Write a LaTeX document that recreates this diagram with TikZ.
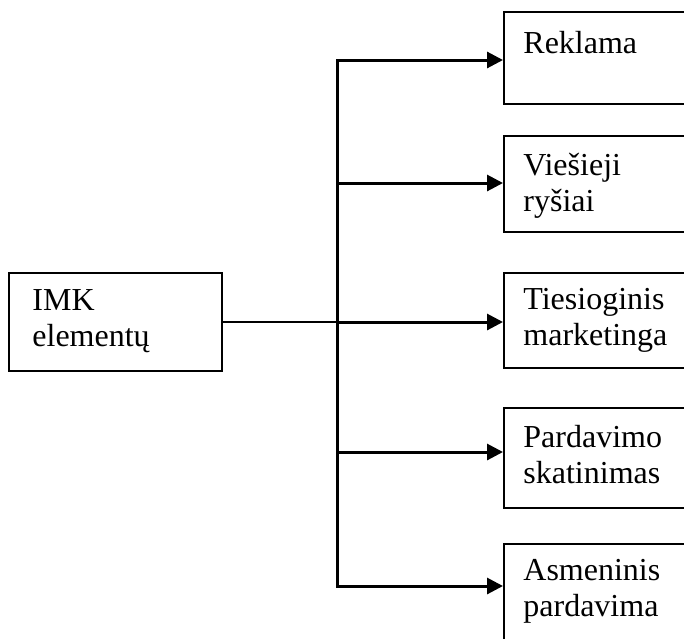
\documentclass[tikz,border=0pt]{standalone}
\usepackage{fontspec}
\setmainfont{Liberation Serif}
\usetikzlibrary{arrows.meta,positioning,calc}
\newcommand{\eil}[1]{\parbox[t]{100pt}{\raggedright #1}}

\begin{document}
\begin{tikzpicture}[x=0.5pt,y=-0.5pt,
    blokas/.style={draw,line width=1.1pt,anchor=north west,inner sep=0pt,minimum width=110pt},
    tekstas/.style={anchor=base west,inner sep=0pt,font=\fontsize{16}{18}\selectfont},
    rodykle/.style={line width=1.5pt,-{Triangle[length=8pt,width=8pt]}}]
  \useasboundingbox (0,0) rectangle (684,638);
  \clip (0,0) rectangle (684,638);
  % kairys blokas
  \node[blokas,minimum width=106.5pt,minimum height=49pt] (imk) at (8,272) {};
  \node[tekstas] (imk-t) at ($(imk.north west)+(24,38)$) {\eil{IMK\\elementų}};
  % desinieji blokai
  \node[blokas,minimum height=46pt] (reklama) at (503,11) {};
  \node[tekstas] (reklama-t) at ($(reklama.north west)+(20,42)$) {\eil{Reklama}};
  \node[blokas,minimum height=48pt] (viesieji) at (503,135) {};
  \node[tekstas] (viesieji-t) at ($(viesieji.north west)+(20,40)$) {\eil{Viešieji\\ryšiai}};
  \node[blokas,minimum height=47.5pt] (tiesioginis) at (503,272) {};
  \node[tekstas] (tiesioginis-t) at ($(tiesioginis.north west)+(20,37)$) {\eil{Tiesioginis\\marketinga}};
  \node[blokas,minimum height=50pt] (pardavimo) at (503,407) {};
  \node[tekstas] (pardavimo-t) at ($(pardavimo.north west)+(20,40)$) {\eil{Pardavimo\\skatinimas}};
  \node[blokas,minimum height=80pt] (asmeninis) at (503,543) {};
  \node[tekstas] (asmeninis-t) at ($(asmeninis.north west)+(20,37)$) {\eil{Asmeninis\\pardavima}};
  % jungtys
  \coordinate (kamienas) at (337,0);
  \draw[line width=0.8pt] (imk.east) -- (imk.east -| kamienas);
  \foreach \b/\d in {reklama/49,viesieji/48,tiesioginis/50,pardavimo/45,asmeninis/43}{
    \coordinate (\b-in) at ($(\b.north west)+(0,\d)$);
    \draw[rodykle] (\b-in -| kamienas) -- (\b-in);
  }
  \draw[line width=1.5pt,line cap=rect] (reklama-in -| kamienas) -- (asmeninis-in -| kamienas);
\end{tikzpicture}
\end{document}
